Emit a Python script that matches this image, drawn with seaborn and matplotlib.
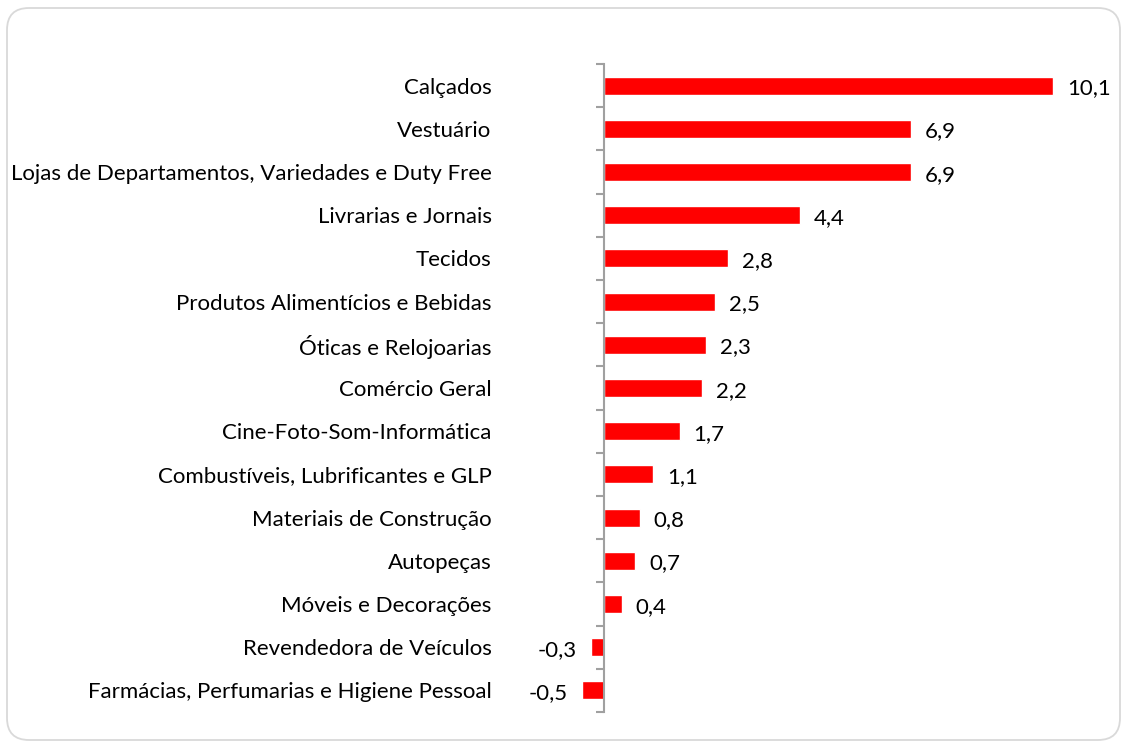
import matplotlib
matplotlib.use("Agg")
import matplotlib.pyplot as plt
import matplotlib.patches as mpatches
import numpy as np
import pandas as pd
import seaborn as sns

# Data
categories = [
    "Calçados",
    "Vestuário",
    "Lojas de Departamentos, Variedades e Duty Free",
    "Livrarias e Jornais",
    "Tecidos",
    "Produtos Alimentícios e Bebidas",
    "Óticas e Relojoarias",
    "Comércio Geral",
    "Cine-Foto-Som-Informática",
    "Combustíveis, Lubrificantes e GLP",
    "Materiais de Construção",
    "Autopeças",
    "Móveis e Decorações",
    "Revendedora de Veículos",
    "Farmácias, Perfumarias e Higiene Pessoal",
]
values = [10.1, 6.9, 6.9, 4.4, 2.8, 2.5, 2.3, 2.2, 1.7, 1.1, 0.8, 0.7, 0.4, -0.3, -0.5]
value_labels = [f"{v:.1f}".replace(".", ",") for v in values]

df = pd.DataFrame({"categoria": categories, "valor": values})

sns.set_theme(style="white")
plt.rcParams["font.family"] = ["Lato", "DejaVu Sans"]

W, H = 1125, 749
fig = plt.figure(figsize=(W / 100, H / 100), dpi=100)

# rounded frame around the chart
frame = mpatches.FancyBboxPatch((7, 9), 1113, 732,
                                boxstyle="round,pad=0,rounding_size=22",
                                transform=None, facecolor="none",
                                edgecolor="#d9d9d9", linewidth=1.3)
fig.patches.append(frame)

x_min, x_max = -1.0, 11.5
px_per_unit = 44.46
zero_px = 604
left = (zero_px + x_min * px_per_unit) / W
width = (x_max - x_min) * px_per_unit / W
ax = fig.add_axes([left, (H - 712) / H, width, 648 / H])
ax.patch.set_alpha(0)

sns.barplot(data=df, y="categoria", x="valor", orient="h", color="#ff0000",
            saturation=1, width=0.42, ax=ax)

ax.set_xlim(x_min, x_max)
ax.set_ylim(len(categories) - 0.5, -0.5)
ax.set_xlabel("")
ax.set_ylabel("")
ax.set_xticks([])

for s in ["top", "right", "bottom"]:
    ax.spines[s].set_visible(False)
ax.spines["left"].set_position(("data", 0))
ax.spines["left"].set_color("#a0a0a0")
ax.spines["left"].set_linewidth(1.5)

# tick marks sit between categories
ax.set_yticks(np.arange(-0.5, len(categories)), minor=True)
ax.tick_params(axis="y", which="minor", left=True, length=6, width=1.5,
               color="#a0a0a0", direction="out")
ax.tick_params(axis="y", which="major", left=False, length=0, pad=81,
               labelsize=16, labelcolor="black")

labels = ax.bar_label(ax.containers[0], labels=value_labels, padding=10,
                      fontsize=16, color="black")
# Excel puts the value labels a touch below the bar centre
for t in labels:
    t.xyann = (t.xyann[0], -2)

fig.savefig("out.png", dpi=100)
